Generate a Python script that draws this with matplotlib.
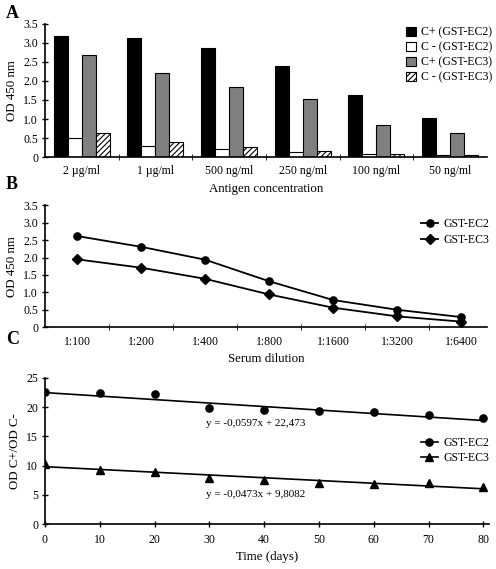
import numpy as np
import matplotlib
matplotlib.use('Agg')
import matplotlib.pyplot as plt
from matplotlib.lines import Line2D

plt.rcParams['font.family'] = ['Liberation Serif', 'DejaVu Serif']
plt.rcParams['font.size'] = 8.5
plt.rcParams['hatch.color'] = '#555555'
plt.rcParams['hatch.linewidth'] = 0.8

# panel A
conc = ['2 µg/ml', '1 µg/ml', '500 ng/ml', '250 ng/ml', '100 ng/ml', '50 ng/ml']
cpos_ec2 = [3.17, 3.12, 2.87, 2.40, 1.63, 1.03]
cneg_ec2 = [0.50, 0.30, 0.21, 0.12, 0.09, 0.06]
cpos_ec3 = [2.69, 2.20, 1.84, 1.52, 0.85, 0.63]
cneg_ec3 = [0.63, 0.40, 0.27, 0.16, 0.08, 0.06]

# panel B
dilution = ['1:100', '1:200', '1:400', '1:800', '1:1600', '1:3200', '1:6400']
b_ec2 = [2.62, 2.31, 1.94, 1.32, 0.78, 0.50, 0.29]
b_ec3 = [1.95, 1.71, 1.39, 0.94, 0.56, 0.31, 0.16]

# panel C
days = [0, 10, 20, 30, 40, 50, 60, 70, 80]
c_ec2 = [22.56, 22.44, 22.27, 19.89, 19.43, 19.30, 19.15, 18.60, 18.20]
c_ec3 = [10.20, 9.26, 8.90, 7.84, 7.56, 7.10, 6.93, 6.99, 6.25]
fit_ec2 = (-0.0597, 22.473)
fit_ec3 = (-0.0473, 9.8082)

LABEL_FS = 9.3


def style(ax):
    ax.spines['top'].set_visible(False)
    ax.spines['right'].set_visible(False)
    ax.spines['left'].set_linewidth(1.2)
    ax.spines['bottom'].set_linewidth(1.2)
    ax.tick_params(direction='inout', length=4, width=1, pad=3)


fig = plt.figure(figsize=(4.96, 5.69), dpi=100)

# ---- A
ax = fig.add_axes([0.0907, 0.724, 0.891, 0.234])
x = np.arange(len(conc))
w = 0.19
ax.bar(x - 1.5 * w, cpos_ec2, w, color='black', edgecolor='black', lw=0.8, label='C+ (GST-EC2)')
ax.bar(x - 0.5 * w, cneg_ec2, w, color='white', edgecolor='black', lw=0.8, label='C - (GST-EC2)')
ax.bar(x + 0.5 * w, cpos_ec3, w, color='#808080', edgecolor='black', lw=0.8, label='C+ (GST-EC3)')
ax.bar(x + 1.5 * w, cneg_ec3, w, color='white', edgecolor='black', lw=0.8, hatch='//////', label='C - (GST-EC3)')
ax.set_xlim(-0.5, 5.5)
ax.set_ylim(0, 3.5)
ax.set_yticks(np.arange(0, 3.6, 0.5))
ax.set_yticklabels(['0'] + ['%.1f' % v for v in np.arange(0.5, 3.6, 0.5)])
ax.set_xticks(x)
ax.set_xticklabels(conc)
ax.set_xticks(np.arange(0.5, 5.5, 1), minor=True)
style(ax)
ax.tick_params(axis='x', which='major', length=0, pad=6)
ax.tick_params(axis='x', which='minor', direction='inout', length=4)
ax.set_ylabel('OD 450 nm', fontsize=LABEL_FS)
ax.set_xlabel('Antigen concentration', fontsize=LABEL_FS, labelpad=4)
ax.legend(loc='upper right', bbox_to_anchor=(1.035, 1.06), frameon=False, fontsize=8.5,
          handlelength=0.8, handleheight=0.8, handletextpad=0.4, labelspacing=0.25)
fig.text(0.012, 0.968, 'A', fontsize=13, fontweight='bold')

# ---- B
ax = fig.add_axes([0.0907, 0.425, 0.891, 0.214])
xb = np.arange(len(dilution))
ax.plot(xb, b_ec2, color='black', lw=1.3, marker='o', ms=5.2, label='GST-EC2')
ax.plot(xb, b_ec3, color='black', lw=1.3, marker='D', ms=4.8, label='GST-EC3')
ax.set_xlim(-0.5, 6.4)
ax.set_ylim(0, 3.5)
ax.set_yticks(np.arange(0, 3.6, 0.5))
ax.set_yticklabels(['0'] + ['%.1f' % v for v in np.arange(0.5, 3.6, 0.5)])
ax.set_xticks(xb)
ax.set_xticklabels(dilution)
ax.set_xticks(np.arange(0.5, 6.5, 1), minor=True)
style(ax)
ax.tick_params(axis='x', which='major', length=0, pad=6)
ax.tick_params(axis='x', which='minor', direction='inout', length=4)
ax.set_ylabel('OD 450 nm', fontsize=LABEL_FS)
ax.set_xlabel('Serum dilution', fontsize=LABEL_FS, labelpad=4)
ax.legend(loc='upper right', bbox_to_anchor=(1.03, 0.98), frameon=False, fontsize=8.5,
          handlelength=1.4, handletextpad=0.5, labelspacing=0.3)
fig.text(0.012, 0.668, 'B', fontsize=13, fontweight='bold')

# ---- C
ax = fig.add_axes([0.0907, 0.079, 0.895, 0.257])
ax.plot(days, c_ec2, 'o', color='black', ms=5.2, label='GST-EC2')
ax.plot(days, c_ec3, '^', color='black', ms=5.2, label='GST-EC3')
xf = np.array([days[0], days[-1]])
ax.plot(xf, fit_ec2[0] * xf + fit_ec2[1], color='black', lw=1.2)
ax.plot(xf, fit_ec3[0] * xf + fit_ec3[1], color='black', lw=1.2)
ax.set_xlim(0, 81)
ax.set_ylim(0, 25)
ax.set_xticks(days)
ax.set_yticks(np.arange(0, 26, 5))
style(ax)
ax.tick_params(axis='x', pad=5)
ax.set_ylabel('OD C+/OD C-', fontsize=LABEL_FS)
ax.set_xlabel('Time (days)', fontsize=LABEL_FS, labelpad=4)
ax.text(29.3, 17.2, 'y = -0,0597x + 22,473', fontsize=8, va='center')
ax.text(29.3, 5.1, 'y = -0,0473x + 9,8082', fontsize=8, va='center')
# legend handles with a line through the marker
hs = [Line2D([], [], color='black', lw=1.2, marker='o', ms=5.2),
      Line2D([], [], color='black', lw=1.2, marker='^', ms=5.2)]
ax.legend(hs, ['GST-EC2', 'GST-EC3'], loc='upper right', bbox_to_anchor=(1.025, 0.67),
          frameon=False, fontsize=8.5, handlelength=1.4, handletextpad=0.5, labelspacing=0.3)
fig.text(0.012, 0.395, 'C', fontsize=13, fontweight='bold')

fig.savefig('out.png', dpi=100)
